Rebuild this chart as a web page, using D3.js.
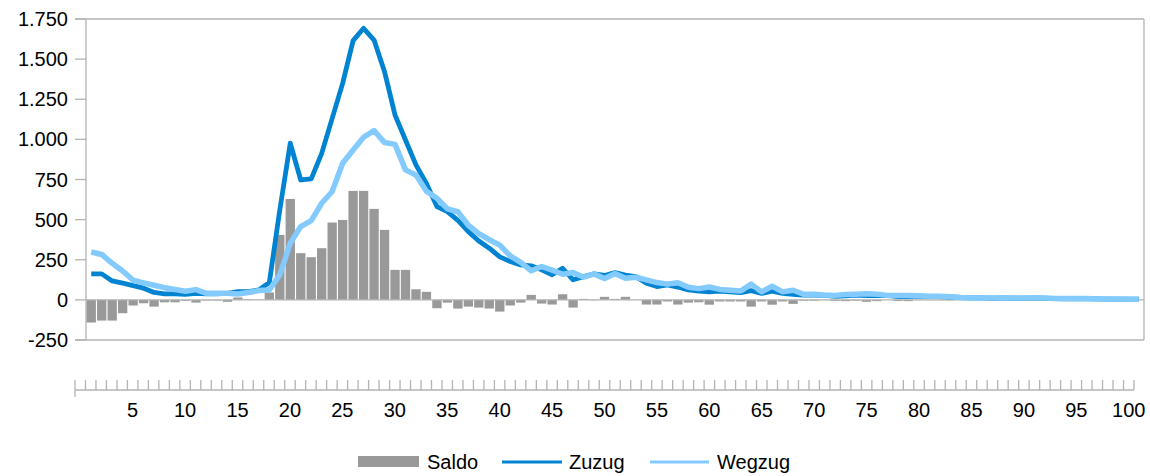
<!DOCTYPE html>
<html><head><meta charset="utf-8">
<script src="https://cdn.jsdelivr.net/npm/d3@7"></script>
<style>html,body{margin:0;padding:0;background:#fff;} svg{display:block;font-family:"Liberation Sans",Arial,sans-serif;}</style>
</head><body><svg id="c" width="1150" height="476"></svg>
<script>
const ages = [0,1,2,3,4,5,6,7,8,9,10,11,12,13,14,15,16,17,18,19,20,21,22,23,24,25,26,27,28,29,30,31,32,33,34,35,36,37,38,39,40,41,42,43,44,45,46,47,48,49,50,51,52,53,54,55,56,57,58,59,60,61,62,63,64,65,66,67,68,69,70,71,72,73,74,75,76,77,78,79,80,81,82,83,84,85,86,87,88,89,90,91,92,93,94,95,96,97,98,99,100];
const zuzug = [162,162,118,104,89,73,46,37,37,35,41,37,37,41,52,52,62,108,560,976,747,754,913,1131,1349,1615,1692,1619,1422,1152,996,841,725,581,550,495,425,367,322,268,239,218,212,187,156,197,125,145,162,152,170,154,145,104,83,93,80,62,54,50,55,50,45,58,40,55,40,35,30,30,28,22,25,30,26,27,28,20,20,24,20,20,18,16,12,12,10,12,10,10,12,10,8,6,6,8,6,5,5,4,4];
const wegzug = [298,283,228,180,122,106,91,76,65,54,64,41,41,41,37,46,58,62,155,353,457,494,602,675,851,934,1013,1055,980,969,810,778,677,633,567,549,465,413,375,341,274,234,181,208,185,160,170,141,162,133,164,135,141,125,108,98,107,79,70,80,65,60,55,98,50,85,50,60,35,35,30,28,33,35,38,35,28,27,28,26,22,22,20,15,12,12,12,12,12,12,14,12,8,8,8,8,6,6,6,4,4];
const saldo = [-141,-129,-129,-83,-35,-21,-42,-15,-15,-6,-17,-4,-4,-12,15,4,2,46,405,629,291,266,322,482,498,679,679,567,436,187,187,66,50,-52,-17,-54,-42,-48,-54,-73,-35,-17,31,-23,-29,35,-48,6,-2,19,6,19,0,-29,-29,-10,-29,-17,-15,-30,-10,-10,-10,-42,-10,-30,-10,-25,-5,-5,-2,-6,-8,-5,-12,-8,0,-7,-8,-2,-2,-2,-2,1,0,0,-2,0,-2,-2,-2,-2,0,-2,-2,0,0,-1,-1,0,0];
const yTicks = [-250,0,250,500,750,1000,1250,1500,1750];
const axisCategories = [0,1,2,3,4,5,6,7,8,9,10,11,12,13,14,15,16,17,18,19,20,21,22,23,24,25,26,27,28,29,30,31,32,33,34,35,36,37,38,39,40,41,42,43,44,45,46,47,48,49,50,51,52,53,54,55,56,57,58,59,60,61,62,63,64,65,66,67,68,69,70,71,72,73,74,75,76,77,78,79,80,81,82,83,84,85,86,87,88,89,90,91,92,93,94,95,96,97,98,99,100];
const xTickLabels = [5,10,15,20,25,30,35,40,45,50,55,60,65,70,75,80,85,90,95,100];
const seriesNames = ["Saldo","Zuzug","Wegzug"];

const C_BAR = "#999999", C_Z = "#0084d1", C_W = "#83caff", C_GRID = "#b3b3b3", C_TXT = "#000";
const FS = 20;

const svg = d3.select("#c");
const x = d3.scaleBand().domain(ages).range([86, 1144]).paddingInner(0.11).paddingOuter(0.055);
const xc = d => x(d) + x.bandwidth() / 2;
const y = d3.scaleLinear().domain([-250, 1750]).range([340, 19]);
const loc = d3.formatLocale({decimal: ",", thousands: ".", grouping: [3], currency: ["", "€"], minus: "-"});
const fmt = loc.format(",d");

// frame
const g = svg.append("g");
g.append("line").attr("x1", 86).attr("x2", 86).attr("y1", y(1750)).attr("y2", y(-250)).attr("stroke", C_GRID).attr("stroke-width", 1.3);
g.append("line").attr("x1", 1144).attr("x2", 1144).attr("y1", y(1750)).attr("y2", y(-250)).attr("stroke", C_GRID).attr("stroke-width", 1.3);
[1750, -250].forEach(v => g.append("line").attr("x1", 75).attr("x2", 1144).attr("y1", y(v)).attr("y2", y(v)).attr("stroke", C_GRID).attr("stroke-width", 1.3));
yTicks.forEach(v => {
  g.append("line").attr("x1", 75).attr("x2", 86).attr("y1", y(v)).attr("y2", y(v)).attr("stroke", C_GRID).attr("stroke-width", 1.3);
  g.append("text").attr("x", 68).attr("y", y(v)).attr("dy", "0.35em").attr("text-anchor", "end")
    .attr("font-size", FS).attr("fill", C_TXT).text(fmt(v));
});

// bars
svg.append("g").selectAll("rect").data(ages).join("rect")
  .attr("x", d => x(d)).attr("width", x.bandwidth())
  .attr("y", (d, i) => y(Math.max(0, saldo[i])))
  .attr("height", (d, i) => Math.abs(y(saldo[i]) - y(0)))
  .attr("fill", C_BAR);

// zero line
svg.append("line").attr("x1", 86).attr("x2", 1144).attr("y1", y(0)).attr("y2", y(0)).attr("stroke", C_GRID).attr("stroke-width", 1.3);

const line = arr => d3.line().x((d, i) => xc(ages[i])).y(d => y(d))(arr);
svg.append("path").attr("d", line(zuzug)).attr("fill", "none").attr("stroke", C_Z).attr("stroke-width", 4.8).attr("stroke-linejoin", "round");
svg.append("path").attr("d", line(wegzug)).attr("fill", "none").attr("stroke", C_W).attr("stroke-width", 5.5).attr("stroke-linejoin", "round");

// lower category axis
const xb = d3.scaleBand().domain(axisCategories).range([75, 1134]).padding(0);
const ax = svg.append("g");
ax.append("line").attr("x1", 75).attr("x2", 1134).attr("y1", 390).attr("y2", 390).attr("stroke", C_GRID).attr("stroke-width", 1.3);
axisCategories.forEach(c => {
  ax.append("line").attr("x1", xb(c)).attr("x2", xb(c)).attr("y1", 380).attr("y2", c === axisCategories[0] ? 397 : 390).attr("stroke", C_GRID).attr("stroke-width", 1.3);
});
ax.append("line").attr("x1", 1134).attr("x2", 1134).attr("y1", 380).attr("y2", 390).attr("stroke", C_GRID).attr("stroke-width", 1.3);
xTickLabels.forEach(l => {
  ax.append("text").attr("x", xb(l) + xb.bandwidth() / 2).attr("y", 410).attr("dy", "0.35em")
    .attr("text-anchor", "middle").attr("font-size", FS).attr("fill", C_TXT).text(l);
});

// legend
const lg = svg.append("g");
lg.append("rect").attr("x", 358).attr("y", 456).attr("width", 61).attr("height", 11).attr("fill", C_BAR);
lg.append("text").attr("x", 427).attr("y", 468.5).attr("font-size", FS).text(seriesNames[0]);
lg.append("line").attr("x1", 502).attr("x2", 562).attr("y1", 462).attr("y2", 462).attr("stroke", C_Z).attr("stroke-width", 3);
lg.append("text").attr("x", 569).attr("y", 468.5).attr("font-size", FS).text(seriesNames[1]);
lg.append("line").attr("x1", 650).attr("x2", 709).attr("y1", 462).attr("y2", 462).attr("stroke", C_W).attr("stroke-width", 3);
lg.append("text").attr("x", 717).attr("y", 468.5).attr("font-size", FS).text(seriesNames[2]);
</script></body></html>
